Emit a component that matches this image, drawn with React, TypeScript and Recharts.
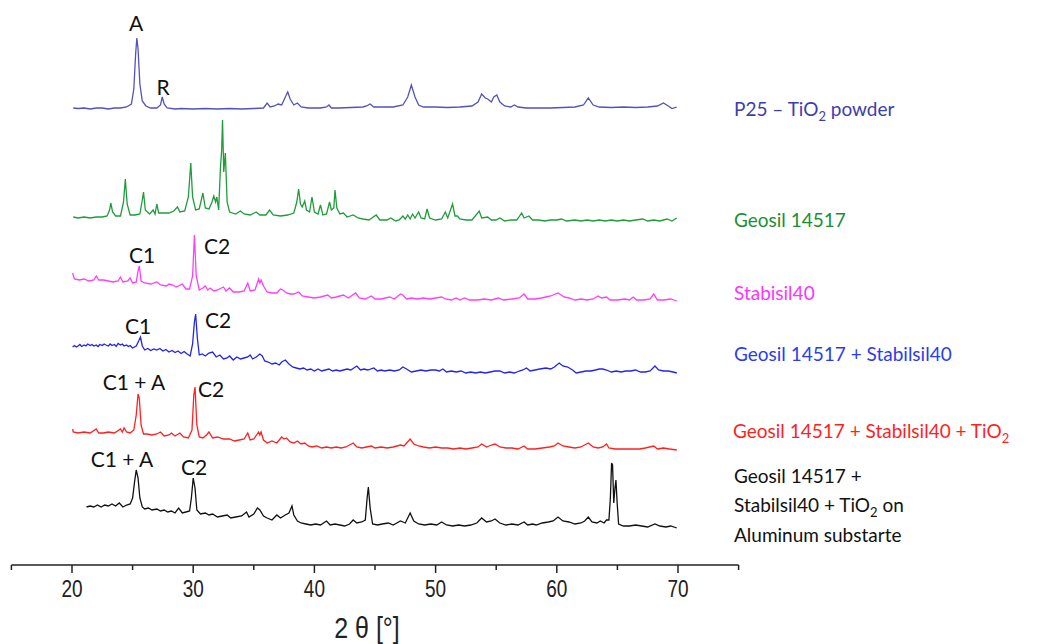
import React from 'react';
import { LineChart, Line, XAxis, YAxis, Customized } from 'recharts';

// 2θ (deg) vs. intensity above each trace's own base
const p25: [number, number][] = [
  [20.1, 1], [20.5, 0.5], [21, 1], [21.5, 0], [22, 1], [22.5, 1], [23, 0], [23.5, 1], [24, 1], [24.5, 2],
  [24.9, 5], [25.1, 20], [25.25, 55], [25.35, 71], [25.45, 60], [25.6, 25], [25.8, 8], [26.1, 3], [26.5, 1],
  [27.0, 1], [27.3, 4], [27.45, 12], [27.6, 5], [27.85, 1], [28.5, 0], [29, 0.5], [30, 0], [31, 0.5], [32, 0],
  [33, 0.5], [34, 0], [35, 0.5], [35.8, 1], [36.1, 6], [36.35, 2], [36.7, 3], [37.0, 5], [37.3, 4], [37.6, 12],
  [37.8, 17], [38.0, 10], [38.3, 4], [38.6, 6], [38.9, 2], [39.5, 1], [40.5, 1], [41.0, 2], [41.2, 4], [41.4, 1],
  [42, 1], [43, 1.5], [44, 2], [44.3, 3], [44.6, 5], [44.9, 2], [45.5, 2], [46.5, 2], [47.3, 4], [47.7, 12],
  [48.0, 24], [48.3, 12], [48.6, 4], [49, 2], [50, 2], [51, 1.5], [52, 2], [53, 3], [53.5, 7], [53.8, 15],
  [54.1, 11], [54.3, 10], [54.6, 7], [54.8, 12], [55.05, 14], [55.3, 7], [55.7, 3], [56.2, 2], [56.5, 4],
  [56.8, 2], [57.5, 1], [58.5, 1], [59.5, 1], [60.5, 1.5], [61.5, 2], [62.2, 4], [62.6, 11], [63.0, 4],
  [63.5, 2], [64.5, 1.5], [65.5, 2], [66.5, 1.5], [67.5, 2], [68.3, 3], [68.8, 6], [69.2, 3], [69.5, 0.5], [69.9, 2],
];

const geosil: [number, number][] = [
  [20.1, 5], [20.5, 4], [21, 5], [21.5, 4], [22, 5], [22.5, 5], [22.9, 6], [23.1, 12], [23.2, 19], [23.35, 10],
  [23.6, 6], [24.0, 6], [24.25, 20], [24.4, 43], [24.55, 18], [24.8, 7], [25.2, 7], [25.6, 8], [25.8, 22],
  [25.9, 30], [26.05, 12], [26.4, 8], [26.7, 12], [26.85, 8], [27.0, 18], [27.15, 9], [27.5, 9], [28.0, 9],
  [28.4, 11], [28.7, 15], [28.9, 10], [29.3, 11], [29.6, 25], [29.8, 59], [29.95, 25], [30.2, 12], [30.5, 13],
  [30.8, 29], [31.0, 14], [31.3, 13], [31.55, 20], [31.7, 26], [31.85, 20], [31.95, 25], [32.1, 12], [32.25, 55],
  [32.35, 72], [32.42, 102], [32.52, 50], [32.65, 69], [32.8, 20], [33.0, 10], [33.5, 8], [33.9, 11], [34.2, 8],
  [34.7, 7], [35.2, 10], [35.5, 7], [36.0, 7], [36.3, 12], [36.6, 7], [37.2, 6], [37.8, 7], [38.3, 9], [38.55, 20],
  [38.7, 33], [38.85, 18], [39.0, 15], [39.2, 21], [39.35, 12], [39.6, 10], [39.8, 25], [40.0, 10], [40.3, 8],
  [40.5, 17], [40.7, 7], [41.0, 8], [41.25, 20], [41.4, 12], [41.6, 14], [41.7, 32], [41.85, 14], [42.1, 8],
  [42.4, 9], [42.7, 5], [43.2, 7], [43.6, 4], [44.0, 3], [44.5, 2], [45.1, 7], [45.4, 2], [46.0, 2], [46.3, 4],
  [46.7, 1], [47.0, 2], [47.3, 6], [47.5, 3], [47.7, 7], [47.9, 3], [48.1, 8], [48.3, 4], [48.6, 10], [48.8, 4],
  [49.1, 3], [49.3, 13], [49.5, 4], [50.0, 2], [50.5, 3], [50.8, 10], [51.0, 4], [51.4, 18], [51.6, 6], [51.8, 6],
  [52.0, 3], [52.5, 2], [53.0, 2], [53.6, 11], [53.8, 4], [54.3, 5], [54.6, 2], [55.0, 2], [55.3, 4], [55.7, 1],
  [56.2, 2], [56.7, 2], [57.1, 9], [57.3, 4], [57.7, 6], [58.0, 2], [58.5, 2], [59.0, 1], [59.5, 2], [60.0, 2],
  [60.4, 3], [60.8, 1], [61.5, 2], [62.0, 1], [62.5, 2], [63.0, 1], [63.5, 2], [64.0, 1], [64.5, 2], [65.0, 1],
  [65.5, 2], [66.0, 1], [66.5, 2], [67.1, 3], [67.5, 1], [68.0, 2], [68.5, 1], [69.1, 3], [69.5, 1], [69.9, 4],
];

const stabisil: [number, number][] = [
  [20.05, 28], [20.2, 22], [20.6, 21], [21.0, 22], [21.4, 20], [21.8, 21], [22.0, 25], [22.2, 21], [22.6, 21],
  [23.0, 20], [23.4, 19], [23.8, 20], [24.0, 24], [24.2, 19], [24.6, 20], [24.8, 23], [25.0, 18], [25.3, 19],
  [25.45, 30], [25.55, 35], [25.7, 20], [26.0, 18], [26.5, 17], [27.0, 19], [27.3, 16], [27.8, 15], [28.0, 17],
  [28.3, 16], [28.6, 14], [29.1, 17], [29.4, 12], [29.7, 12], [29.95, 25], [30.1, 66], [30.25, 25], [30.5, 11],
  [30.8, 13], [31.0, 15], [31.2, 11], [31.4, 13], [31.7, 10], [32.0, 11], [32.5, 14], [32.7, 10], [33.0, 13],
  [33.3, 9], [33.8, 9], [34.2, 10], [34.5, 18], [34.7, 10], [35.1, 11], [35.4, 22], [35.5, 18], [35.6, 21],
  [35.8, 15], [36.1, 9], [36.5, 8], [36.9, 8], [37.2, 12], [37.4, 11], [37.7, 8], [38.0, 7], [38.3, 7], [38.7, 9],
  [39.0, 5], [39.5, 4], [40.0, 3], [40.5, 4], [41.1, 6], [41.4, 3], [41.8, 4], [42.4, 6], [42.8, 3], [43.4, 8],
  [43.7, 3], [44.2, 2], [44.7, 5], [45.0, 2], [45.5, 2], [46.2, 4], [46.6, 2], [47.1, 7], [47.3, 6], [47.6, 2],
  [48.0, 3], [48.5, 2], [49.0, 3], [49.5, 2], [50.0, 3], [50.5, 4], [50.8, 2], [51.3, 1], [51.7, 3], [52.0, 1],
  [52.4, 3], [52.8, 1], [53.5, 1], [54.0, 2], [54.6, 1], [55.2, 3], [55.6, 1], [56.3, 2], [56.9, 3], [57.3, 7],
  [57.6, 2], [58.2, 2], [58.7, 3], [59.1, 4], [59.5, 5], [60.1, 8], [60.6, 4], [61.0, 3], [61.5, 1], [62.0, 2],
  [62.5, 1], [63.0, 2], [63.4, 5], [63.7, 3], [64.1, 4], [64.4, 1], [65.0, 1], [65.6, 2], [66.0, 1], [66.3, 4],
  [66.6, 1], [67.2, 1], [67.7, 2], [68.0, 7], [68.3, 1], [68.8, 1], [69.4, 2], [69.9, 0],
];

const mixBlue: [number, number][] = [
  [20.05, 27], [20.2, 28.5], [20.35, 27], [20.5, 28], [20.65, 29.5], [20.8, 27.5], [21.0, 29], [21.15, 28],
  [21.3, 30], [21.5, 28.5], [21.65, 29.5], [21.8, 28], [22.0, 29], [22.15, 27.5], [22.3, 29.5], [22.5, 28.5],
  [22.65, 30], [22.8, 29], [23.0, 28], [23.15, 30], [23.3, 28.5], [23.5, 29.5], [23.65, 27.5], [23.8, 30.5],
  [24.0, 29], [24.15, 30], [24.3, 28], [24.5, 29], [24.65, 27.5], [24.8, 28.5], [25.0, 26], [25.3, 28], [25.5, 33],
  [25.65, 37], [25.8, 28], [26.0, 24], [26.25, 25.5], [26.5, 23.5], [26.75, 25], [27.0, 24], [27.25, 25.5],
  [27.5, 23], [27.75, 24.5], [28.0, 22], [28.25, 23.5], [28.5, 21.5], [28.75, 23], [29.0, 20.5], [29.25, 22.5],
  [29.5, 20], [29.75, 18], [29.95, 30], [30.1, 52], [30.2, 60], [30.35, 35], [30.5, 19], [30.75, 20], [31.0, 18],
  [31.3, 21], [31.6, 22], [31.9, 17], [32.2, 19], [32.5, 15], [32.8, 16], [33.0, 18], [33.3, 14], [33.6, 17],
  [33.9, 15], [34.2, 16], [34.5, 17], [34.7, 19], [34.9, 15], [35.2, 17], [35.5, 20], [35.7, 18], [35.9, 13],
  [36.2, 12], [36.5, 10], [36.8, 11], [37.1, 9], [37.3, 12], [37.6, 14], [37.9, 10], [38.2, 7], [38.5, 6],
  [38.8, 5], [39.1, 6], [39.4, 4], [39.7, 5], [40.0, 3], [40.3, 5], [40.6, 3], [40.9, 4], [41.2, 5], [41.5, 3],
  [41.8, 4], [42.1, 3], [42.4, 4], [42.7, 5], [43.0, 4], [43.5, 8], [43.8, 4], [44.1, 5], [44.4, 4], [44.9, 6],
  [45.2, 3], [45.5, 4], [45.8, 3], [46.2, 4], [46.6, 3], [47.0, 4], [47.3, 7], [47.6, 5], [48.0, 2], [48.4, 3],
  [48.8, 4], [49.2, 3], [49.6, 4], [50.0, 4], [50.3, 3], [50.6, 5], [50.9, 2], [51.3, 3], [51.7, 2], [52.1, 3],
  [52.5, 1], [52.9, 2], [53.3, 1], [53.7, 2], [54.1, 1], [54.5, 2], [54.9, 3], [55.3, 3], [55.7, 1], [56.1, 2],
  [56.5, 1], [56.9, 3], [57.2, 4], [57.5, 6], [57.8, 3], [58.2, 4], [58.6, 5], [59.1, 6], [59.5, 5], [59.8, 7],
  [60.2, 11], [60.5, 8], [60.9, 7], [61.3, 4], [61.6, 1], [62.0, 2], [62.4, 3], [62.8, 3], [63.2, 4], [63.5, 5],
  [63.8, 5], [64.1, 4], [64.5, 2], [64.9, 3], [65.3, 2], [65.7, 3], [66.1, 3], [66.5, 4], [66.9, 2], [67.3, 2],
  [67.7, 3], [68.1, 8], [68.4, 4], [68.8, 3], [69.2, 3], [69.6, 2], [69.9, 1],
];

const mixRed: [number, number][] = [
  [20.05, 21], [20.1, 18], [20.5, 17], [21.0, 18], [21.5, 17], [22.0, 21], [22.2, 17], [22.6, 17], [23.0, 18],
  [23.5, 17], [24.0, 21], [24.15, 18], [24.3, 22], [24.5, 18], [24.8, 17], [25.1, 20], [25.3, 35], [25.45, 56],
  [25.55, 52], [25.7, 25], [25.9, 16], [26.2, 16], [26.6, 15], [27.0, 16], [27.3, 18], [27.6, 14], [28.0, 15],
  [28.2, 17], [28.5, 14], [28.9, 17], [29.2, 13], [29.6, 12], [29.9, 20], [30.05, 55], [30.15, 63], [30.3, 25],
  [30.5, 13], [30.8, 12], [31.1, 15], [31.3, 18], [31.6, 12], [32.0, 13], [32.5, 11], [33.0, 11], [33.4, 9],
  [33.8, 10], [34.2, 11], [34.5, 17], [34.7, 10], [35.0, 11], [35.4, 18], [35.5, 15], [35.6, 18], [35.8, 10],
  [36.1, 7], [36.5, 9], [36.9, 7], [37.3, 13], [37.5, 11], [37.7, 12], [38.0, 8], [38.3, 7], [38.6, 9], [38.9, 6],
  [39.2, 7], [39.5, 4], [39.8, 3], [40.2, 4], [40.6, 2], [41.0, 3], [41.4, 2], [41.8, 3], [42.2, 2], [42.6, 3],
  [43.2, 7], [43.5, 3], [43.9, 2], [44.3, 3], [44.7, 4], [45.0, 2], [45.5, 3], [46.0, 2], [46.5, 3], [47.1, 5],
  [47.4, 4], [47.9, 11], [48.2, 6], [48.6, 4], [49.0, 3], [49.5, 2], [50.0, 3], [50.5, 2], [51.0, 2], [51.5, 1],
  [52.0, 2], [52.5, 1], [53.0, 2], [53.5, 3], [53.8, 6], [54.2, 3], [54.6, 5], [54.9, 6], [55.3, 3], [55.8, 2],
  [56.3, 2], [56.8, 1], [57.3, 4], [57.6, 1], [58.2, 1], [58.8, 2], [59.4, 3], [59.8, 4], [60.1, 7], [60.5, 4],
  [61.0, 3], [61.5, 2], [62.0, 3], [62.6, 7], [63.0, 3], [63.4, 2], [63.8, 3], [64.1, 6], [64.3, 2], [64.8, 1],
  [65.3, 1], [65.8, 1], [66.3, 1], [66.8, 1], [67.3, 2], [68.0, 4], [68.3, 1], [68.8, 2], [69.3, 1], [69.9, 0],
];

const onAluminum: [number, number][] = [
  [21.2, 21], [21.5, 22], [21.8, 21], [22.1, 23], [22.4, 21], [22.7, 23], [23.0, 22], [23.3, 24], [23.6, 22],
  [23.9, 25], [24.2, 21], [24.5, 23], [24.8, 24], [25.0, 30], [25.15, 45], [25.3, 58], [25.45, 50], [25.6, 30],
  [25.8, 21], [26.0, 19], [26.3, 20], [26.6, 18], [27.0, 19], [27.3, 17], [27.6, 18], [27.9, 16], [28.2, 17],
  [28.5, 15], [28.8, 20], [29.1, 15], [29.4, 16], [29.7, 17], [29.85, 30], [30.0, 50], [30.15, 40], [30.3, 18],
  [30.6, 14], [31.0, 15], [31.3, 13], [31.6, 14], [32.0, 11], [32.4, 12], [32.8, 13], [33.1, 10], [33.5, 11],
  [34.0, 12], [34.4, 16], [34.6, 11], [35.0, 14], [35.3, 20], [35.5, 18], [35.8, 12], [36.1, 10], [36.5, 8],
  [36.9, 13], [37.2, 10], [37.6, 13], [37.9, 15], [38.15, 22], [38.3, 13], [38.6, 7], [38.9, 5], [39.3, 4],
  [39.7, 3], [40.1, 4], [40.5, 3], [41.0, 7], [41.3, 3], [41.7, 4], [42.1, 3], [42.5, 2], [42.9, 4], [43.2, 8],
  [43.5, 5], [43.9, 6], [44.2, 8], [44.35, 30], [44.45, 41], [44.6, 20], [44.8, 4], [45.2, 3], [45.6, 4],
  [46.1, 5], [46.5, 3], [46.8, 5], [47.1, 7], [47.5, 5], [47.9, 15], [48.2, 7], [48.6, 4], [49.1, 3], [49.6, 4],
  [50.1, 3], [50.5, 6], [50.9, 3], [51.4, 2], [51.9, 3], [52.4, 2], [52.9, 3], [53.4, 5], [53.8, 10], [54.2, 6],
  [54.6, 7], [54.9, 9], [55.3, 5], [55.8, 3], [56.3, 4], [56.8, 3], [57.3, 6], [57.6, 3], [58.0, 4], [58.3, 3],
  [58.8, 5], [59.3, 6], [59.7, 7], [60.1, 11], [60.5, 7], [61.0, 6], [61.5, 4], [62.0, 5], [62.3, 7], [62.6, 11],
  [62.9, 6], [63.3, 5], [63.6, 7], [63.9, 5], [64.1, 8], [64.3, 8], [64.42, 30], [64.52, 65], [64.6, 63],
  [64.7, 25], [64.8, 40], [64.88, 48], [64.98, 25], [65.1, 4], [65.5, 2], [66.0, 2], [66.5, 3], [67.0, 2],
  [67.5, 1], [68.1, 4], [68.5, 2], [69.0, 1], [69.4, 2], [69.9, 0],
];

const xTicks = [15, 20, 25, 30, 35, 40, 45, 50, 55, 60, 65, 70, 75];

// vertical stacking offsets (same units as the y scale)
const offsets = { p25: 456, geosil: 343, stabisil: 264, mixBlue: 191, mixRed: 115, onAluminum: 37 };

const build = (pts: [number, number][], off: number) => pts.map(([x, v]) => ({ x, y: v + off }));

const series = [
  { key: 'p25', data: build(p25, offsets.p25), color: '#5252bd' },
  { key: 'geosil', data: build(geosil, offsets.geosil), color: '#1f9c3b' },
  { key: 'stabisil', data: build(stabisil, offsets.stabisil), color: '#ff3dff' },
  { key: 'mixBlue', data: build(mixBlue, offsets.mixBlue), color: '#2323f0' },
  { key: 'mixRed', data: build(mixRed, offsets.mixRed), color: '#ff2020' },
  { key: 'onAluminum', data: build(onAluminum, offsets.onAluminum), color: '#111111' },
];

const LABEL_FONT = 'Lato, "Open Sans", sans-serif';
const AXIS_FONT = '"Liberation Sans", Arial, sans-serif';

const AxisTick = (props: any) => {
  const { x, y, payload } = props;
  const major = payload.value % 10 === 0;
  return (
    <g transform={`translate(${x},${y})`}>
      <line x1={0} x2={0} y1={0} y2={major ? 8 : 5} stroke="#222" strokeWidth={1.5} />
      {major && (
        <text transform="translate(0,32) scale(0.95,1.15)" textAnchor="middle" fontSize={20} fill="#222"
          fontFamily={AXIS_FONT}>
          {payload.value}
        </text>
      )}
    </g>
  );
};

// "TiO2" style label: text before, subscript, text after (baseline restored)
const SubLabel = ({ x, y, fill, before, sub, after }: any) => (
  <text x={x} y={y} fill={fill}>
    <tspan>{before}</tspan>
    <tspan dy={5} fontSize={13}>{sub}</tspan>
    {after ? <tspan dy={-5}>{after}</tspan> : null}
  </text>
);

const Annotations = () => (
  <g fontFamily={LABEL_FONT}>
    {/* peak markers */}
    <g fontSize={21} fill="#111" textAnchor="middle" dominantBaseline="central">
      <text x={136} y={22}>A</text>
      <text x={163} y={86}>R</text>
      <text x={142} y={254}>C1</text>
      <text x={217} y={245}>C2</text>
      <text x={138} y={325}>C1</text>
      <text x={218} y={319}>C2</text>
      <text x={134} y={381}>C1 + A</text>
      <text x={211} y={388}>C2</text>
      <text x={122} y={458}>C1 + A</text>
      <text x={194} y={466}>C2</text>
    </g>
    {/* series names */}
    <g fontSize={19}>
      <SubLabel x={734} y={116} fill="#3d3db0" before="P25 – TiO" sub="2" after=" powder" />
      <text x={734} y={227} fill="#1a8f33">Geosil 14517</text>
      <text x={734} y={300} fill="#ff33ff">Stabisil40</text>
      <text x={734} y={361} fill="#2b3cf0">Geosil 14517 + Stabilsil40</text>
      <SubLabel x={733} y={438} fill="#ff1f1f" before="Geosil 14517 + Stabilsil40 + TiO" sub="2" />
      <text x={734} y={483} fill="#111">Geosil 14517 +</text>
      <SubLabel x={734} y={512} fill="#111" before="Stabilsil40 + TiO" sub="2" after=" on" />
      <text x={734} y={542} fill="#111">Aluminum substarte</text>
    </g>
    <text transform="translate(367,638) scale(1,1.15)" textAnchor="middle" fontSize={25} fill="#222"
      fontFamily={AXIS_FONT}>2 θ [°]</text>
  </g>
);

export default function App() {
  return (
    <div style={{ position: 'absolute', left: 0, top: 0, width: 1044, height: 644, background: '#fff' }}>
      <LineChart width={1044} height={644} margin={{ top: 0, right: 305.4, left: 11.4, bottom: 0 }}>
        <XAxis
          dataKey="x"
          type="number"
          domain={[15, 75]}
          ticks={xTicks}
          height={79}
          tickLine={false}
          tickSize={0}
          tickMargin={0}
          tick={<AxisTick />}
          axisLine={{ stroke: '#222', strokeWidth: 1.5 }}
          allowDataOverflow
        />
        <YAxis type="number" domain={[0, 565]} hide />
        {series.map(s => (
          <Line
            key={s.key}
            data={s.data}
            dataKey="y"
            type="linear"
            stroke={s.color}
            strokeWidth={1.3}
            dot={false}
            activeDot={false}
            isAnimationActive={false}
          />
        ))}
        <Customized component={Annotations} />
      </LineChart>
    </div>
  );
}
